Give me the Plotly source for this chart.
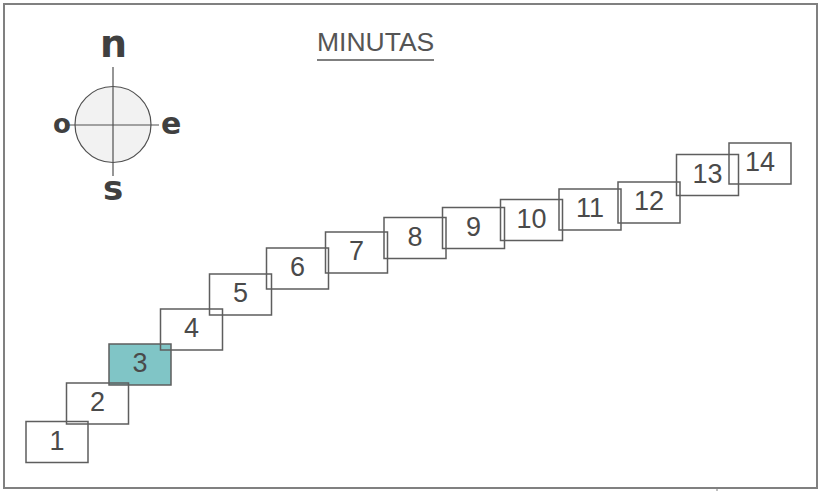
import plotly.graph_objects as go

# ---- data ----
labels = ["1", "2", "3", "4", "5", "6", "7", "8", "9", "10", "11", "12", "13", "14"]
center_x = [57, 97.5, 140, 191.5, 240.5, 297.5, 356.5, 415, 473.5, 531.5, 590, 649, 707.5, 760]
center_y = [442, 403.5, 364.5, 329.5, 294.5, 268.5, 252.5, 238, 228, 220, 209.5, 202.5, 175, 163.5]
highlighted = ["3"]
title_text = "MINUTAS"
compass_labels = ["n", "o", "e", "s"]

# ---- style ----
W, H = 820, 491
BOX_W, BOX_H = 62, 41
BOX_LINE = "#5e5e5e"
TEAL = "#80c5c6"
TXT = "#4a4a4a"

shapes = []
# outer frame
shapes.append(dict(type="rect", x0=4, y0=4, x1=817, y1=488,
                   line=dict(color="#808080", width=2), fillcolor="rgba(0,0,0,0)"))
shapes.append(dict(type="line", x0=717, y0=488, x1=717, y1=491,
                   line=dict(color="#808080", width=1)))

# boxes: highlighted first so others draw over it
order = sorted(range(len(labels)), key=lambda i: 0 if labels[i] in highlighted else 1)
for i in order:
    filled = labels[i] in highlighted
    shapes.append(dict(type="rect",
                       x0=center_x[i] - BOX_W / 2, x1=center_x[i] + BOX_W / 2,
                       y0=center_y[i] - BOX_H / 2, y1=center_y[i] + BOX_H / 2,
                       line=dict(color=BOX_LINE, width=1.5),
                       fillcolor=TEAL if filled else "rgba(0,0,0,0)"))

# title underline
shapes.append(dict(type="line", x0=317, y0=60, x1=434, y1=60,
                   line=dict(color="#555555", width=1.5)))

# compass
cx, cy, r = 113, 124.5, 38
shapes.append(dict(type="circle", x0=cx - r, x1=cx + r, y0=cy - r, y1=cy + r,
                   line=dict(color="#505050", width=1.2), fillcolor="#f2f2f2"))
shapes.append(dict(type="line", x0=cx, x1=cx, y0=67, y1=176,
                   line=dict(color="#505050", width=1.2)))
shapes.append(dict(type="line", x0=65, x1=159, y0=125, y1=125,
                   line=dict(color="#505050", width=1.2)))

for s in shapes:
    s["layer"] = "below"

fig = go.Figure()
fig.add_trace(go.Scatter(
    x=center_x, y=[v + 1 for v in center_y], text=labels, mode="text",
    textposition="middle center",
    textfont=dict(family="Liberation Sans, Arial, sans-serif", size=27, color=TXT),
    hoverinfo="skip", showlegend=False))

annotations = [
    dict(x=375.5, y=42, text=title_text, showarrow=False, xanchor="center", yanchor="middle",
         font=dict(family="Liberation Sans, Arial, sans-serif", size=26.5, color="#555555")),
]
compass_pos = [(113, 44, 38), (62, 124, 26), (171, 123, 30), (113, 188, 34)]
for lab, (px, py, sz) in zip(compass_labels, compass_pos):
    annotations.append(dict(x=px, y=py, text="<b>%s</b>" % lab, showarrow=False,
                            xanchor="center", yanchor="middle",
                            font=dict(family="DejaVu Sans, sans-serif", size=sz, color="#404040")))

fig.update_layout(
    width=W, height=H, autosize=False,
    margin=dict(l=0, r=0, t=0, b=0),
    paper_bgcolor="white", plot_bgcolor="rgba(0,0,0,0)",
    xaxis=dict(range=[0, W], visible=False, fixedrange=True),
    yaxis=dict(range=[H, 0], visible=False, fixedrange=True),
    shapes=shapes, annotations=annotations,
)

fig.write_html("out.html", config={"displayModeBar": False},
               post_script="document.body.style.margin='0';document.body.style.overflow='hidden';")
